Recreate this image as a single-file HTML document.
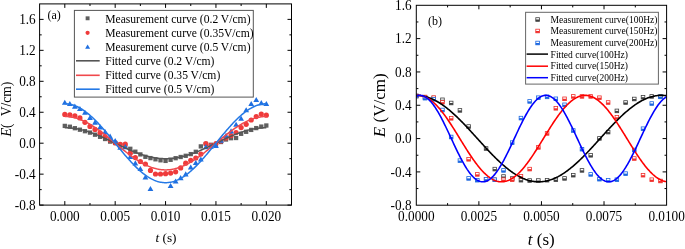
<!DOCTYPE html>
<html><head><meta charset="utf-8"><title>fig</title>
<style>html,body{margin:0;padding:0;background:#fff;}body{width:685px;height:249px;position:relative;overflow:hidden;font-family:"Liberation Serif",serif;}</style>
</head><body>
<svg width="685" height="249" viewBox="0 0 685 249" style="position:absolute;left:0;top:0;will-change:transform" font-family="Liberation Serif, serif">
<rect width="685" height="249" fill="#fff"/>
<clipPath id="cl"><rect x="39.6" y="3.9" width="251.9" height="201.2"/></clipPath>
<g clip-path="url(#cl)">
<rect x="62.65" y="123.75" width="4.3" height="4.3" fill="#5f5f5f"/>
<rect x="67.69" y="124.55" width="4.3" height="4.3" fill="#5f5f5f"/>
<rect x="72.73" y="126.05" width="4.3" height="4.3" fill="#5f5f5f"/>
<rect x="77.76" y="127.55" width="4.3" height="4.3" fill="#5f5f5f"/>
<rect x="82.80" y="129.05" width="4.3" height="4.3" fill="#5f5f5f"/>
<rect x="87.84" y="130.45" width="4.3" height="4.3" fill="#5f5f5f"/>
<rect x="92.88" y="132.55" width="4.3" height="4.3" fill="#5f5f5f"/>
<rect x="97.92" y="134.65" width="4.3" height="4.3" fill="#5f5f5f"/>
<rect x="102.95" y="136.85" width="4.3" height="4.3" fill="#5f5f5f"/>
<rect x="107.99" y="139.45" width="4.3" height="4.3" fill="#5f5f5f"/>
<rect x="113.03" y="140.85" width="4.3" height="4.3" fill="#5f5f5f"/>
<rect x="118.07" y="142.65" width="4.3" height="4.3" fill="#5f5f5f"/>
<rect x="123.11" y="144.65" width="4.3" height="4.3" fill="#5f5f5f"/>
<rect x="128.14" y="146.65" width="4.3" height="4.3" fill="#5f5f5f"/>
<rect x="133.18" y="149.55" width="4.3" height="4.3" fill="#5f5f5f"/>
<rect x="138.22" y="152.25" width="4.3" height="4.3" fill="#5f5f5f"/>
<rect x="143.26" y="154.65" width="4.3" height="4.3" fill="#5f5f5f"/>
<rect x="148.30" y="155.95" width="4.3" height="4.3" fill="#5f5f5f"/>
<rect x="153.33" y="157.15" width="4.3" height="4.3" fill="#5f5f5f"/>
<rect x="158.37" y="158.15" width="4.3" height="4.3" fill="#5f5f5f"/>
<rect x="163.41" y="158.75" width="4.3" height="4.3" fill="#5f5f5f"/>
<rect x="168.45" y="157.65" width="4.3" height="4.3" fill="#5f5f5f"/>
<rect x="173.49" y="156.05" width="4.3" height="4.3" fill="#5f5f5f"/>
<rect x="178.52" y="154.85" width="4.3" height="4.3" fill="#5f5f5f"/>
<rect x="183.56" y="153.65" width="4.3" height="4.3" fill="#5f5f5f"/>
<rect x="188.60" y="151.95" width="4.3" height="4.3" fill="#5f5f5f"/>
<rect x="193.64" y="149.65" width="4.3" height="4.3" fill="#5f5f5f"/>
<rect x="198.68" y="144.25" width="4.3" height="4.3" fill="#5f5f5f"/>
<rect x="203.71" y="141.85" width="4.3" height="4.3" fill="#5f5f5f"/>
<rect x="208.75" y="142.65" width="4.3" height="4.3" fill="#5f5f5f"/>
<rect x="213.79" y="143.05" width="4.3" height="4.3" fill="#5f5f5f"/>
<rect x="218.83" y="139.85" width="4.3" height="4.3" fill="#5f5f5f"/>
<rect x="223.87" y="137.35" width="4.3" height="4.3" fill="#5f5f5f"/>
<rect x="228.90" y="136.05" width="4.3" height="4.3" fill="#5f5f5f"/>
<rect x="233.94" y="135.85" width="4.3" height="4.3" fill="#5f5f5f"/>
<rect x="238.98" y="131.65" width="4.3" height="4.3" fill="#5f5f5f"/>
<rect x="244.02" y="129.65" width="4.3" height="4.3" fill="#5f5f5f"/>
<rect x="249.06" y="127.75" width="4.3" height="4.3" fill="#5f5f5f"/>
<rect x="254.09" y="125.95" width="4.3" height="4.3" fill="#5f5f5f"/>
<rect x="259.13" y="124.45" width="4.3" height="4.3" fill="#5f5f5f"/>
<rect x="264.17" y="123.35" width="4.3" height="4.3" fill="#5f5f5f"/>
<circle cx="64.80" cy="114.40" r="2.6" fill="#ef3b3b"/>
<circle cx="69.84" cy="114.80" r="2.6" fill="#ef3b3b"/>
<circle cx="74.88" cy="115.80" r="2.6" fill="#ef3b3b"/>
<circle cx="79.91" cy="117.90" r="2.6" fill="#ef3b3b"/>
<circle cx="84.95" cy="122.30" r="2.6" fill="#ef3b3b"/>
<circle cx="89.99" cy="126.40" r="2.6" fill="#ef3b3b"/>
<circle cx="95.03" cy="129.40" r="2.6" fill="#ef3b3b"/>
<circle cx="100.07" cy="132.90" r="2.6" fill="#ef3b3b"/>
<circle cx="105.10" cy="136.50" r="2.6" fill="#ef3b3b"/>
<circle cx="110.14" cy="140.00" r="2.6" fill="#ef3b3b"/>
<circle cx="115.18" cy="142.80" r="2.6" fill="#ef3b3b"/>
<circle cx="120.22" cy="144.40" r="2.6" fill="#ef3b3b"/>
<circle cx="125.26" cy="144.00" r="2.6" fill="#ef3b3b"/>
<circle cx="130.29" cy="153.20" r="2.6" fill="#ef3b3b"/>
<circle cx="135.33" cy="157.60" r="2.6" fill="#ef3b3b"/>
<circle cx="140.37" cy="161.50" r="2.6" fill="#ef3b3b"/>
<circle cx="145.41" cy="164.00" r="2.6" fill="#ef3b3b"/>
<circle cx="150.45" cy="170.40" r="2.6" fill="#ef3b3b"/>
<circle cx="155.48" cy="174.00" r="2.6" fill="#ef3b3b"/>
<circle cx="160.52" cy="174.00" r="2.6" fill="#ef3b3b"/>
<circle cx="165.56" cy="173.70" r="2.6" fill="#ef3b3b"/>
<circle cx="170.60" cy="173.10" r="2.6" fill="#ef3b3b"/>
<circle cx="175.64" cy="171.80" r="2.6" fill="#ef3b3b"/>
<circle cx="180.67" cy="167.90" r="2.6" fill="#ef3b3b"/>
<circle cx="185.71" cy="163.20" r="2.6" fill="#ef3b3b"/>
<circle cx="190.75" cy="160.30" r="2.6" fill="#ef3b3b"/>
<circle cx="195.79" cy="158.00" r="2.6" fill="#ef3b3b"/>
<circle cx="200.83" cy="154.10" r="2.6" fill="#ef3b3b"/>
<circle cx="205.86" cy="143.50" r="2.6" fill="#ef3b3b"/>
<circle cx="210.90" cy="145.50" r="2.6" fill="#ef3b3b"/>
<circle cx="215.94" cy="143.50" r="2.6" fill="#ef3b3b"/>
<circle cx="220.98" cy="141.00" r="2.6" fill="#ef3b3b"/>
<circle cx="226.02" cy="138.00" r="2.6" fill="#ef3b3b"/>
<circle cx="231.05" cy="135.60" r="2.6" fill="#ef3b3b"/>
<circle cx="236.09" cy="132.50" r="2.6" fill="#ef3b3b"/>
<circle cx="241.13" cy="127.60" r="2.6" fill="#ef3b3b"/>
<circle cx="246.17" cy="124.30" r="2.6" fill="#ef3b3b"/>
<circle cx="251.21" cy="120.00" r="2.6" fill="#ef3b3b"/>
<circle cx="256.24" cy="116.60" r="2.6" fill="#ef3b3b"/>
<circle cx="261.28" cy="114.10" r="2.6" fill="#ef3b3b"/>
<circle cx="266.32" cy="115.20" r="2.6" fill="#ef3b3b"/>
<path d="M64.80 99.70 L67.70 104.77 L61.90 104.77Z" fill="#1f6fe0"/>
<path d="M69.84 100.90 L72.74 105.97 L66.94 105.97Z" fill="#1f6fe0"/>
<path d="M74.88 103.60 L77.78 108.67 L71.98 108.67Z" fill="#1f6fe0"/>
<path d="M79.91 105.90 L82.81 110.97 L77.01 110.97Z" fill="#1f6fe0"/>
<path d="M84.95 109.70 L87.85 114.77 L82.05 114.77Z" fill="#1f6fe0"/>
<path d="M89.99 115.00 L92.89 120.08 L87.09 120.08Z" fill="#1f6fe0"/>
<path d="M95.03 119.60 L97.93 124.67 L92.13 124.67Z" fill="#1f6fe0"/>
<path d="M100.07 124.30 L102.97 129.38 L97.17 129.38Z" fill="#1f6fe0"/>
<path d="M105.10 129.10 L108.00 134.18 L102.20 134.18Z" fill="#1f6fe0"/>
<path d="M110.14 133.60 L113.04 138.68 L107.24 138.68Z" fill="#1f6fe0"/>
<path d="M115.18 138.00 L118.08 143.08 L112.28 143.08Z" fill="#1f6fe0"/>
<path d="M120.22 144.60 L123.12 149.68 L117.32 149.68Z" fill="#1f6fe0"/>
<path d="M125.26 144.10 L128.16 149.18 L122.36 149.18Z" fill="#1f6fe0"/>
<path d="M130.29 153.80 L133.19 158.88 L127.39 158.88Z" fill="#1f6fe0"/>
<path d="M135.33 160.30 L138.23 165.38 L132.43 165.38Z" fill="#1f6fe0"/>
<path d="M140.37 166.00 L143.27 171.08 L137.47 171.08Z" fill="#1f6fe0"/>
<path d="M145.41 174.40 L148.31 179.48 L142.51 179.48Z" fill="#1f6fe0"/>
<path d="M150.45 185.90 L153.35 190.98 L147.55 190.98Z" fill="#1f6fe0"/>
<path d="M170.60 182.90 L173.50 187.98 L167.70 187.98Z" fill="#1f6fe0"/>
<path d="M175.64 178.40 L178.54 183.48 L172.74 183.48Z" fill="#1f6fe0"/>
<path d="M180.67 175.10 L183.57 180.18 L177.77 180.18Z" fill="#1f6fe0"/>
<path d="M185.71 171.30 L188.61 176.38 L182.81 176.38Z" fill="#1f6fe0"/>
<path d="M190.75 164.40 L193.65 169.48 L187.85 169.48Z" fill="#1f6fe0"/>
<path d="M195.79 160.00 L198.69 165.08 L192.89 165.08Z" fill="#1f6fe0"/>
<path d="M200.83 156.50 L203.73 161.58 L197.93 161.58Z" fill="#1f6fe0"/>
<path d="M205.86 144.10 L208.76 149.18 L202.96 149.18Z" fill="#1f6fe0"/>
<path d="M210.90 143.60 L213.80 148.68 L208.00 148.68Z" fill="#1f6fe0"/>
<path d="M215.94 142.90 L218.84 147.98 L213.04 147.98Z" fill="#1f6fe0"/>
<path d="M220.98 137.60 L223.88 142.68 L218.08 142.68Z" fill="#1f6fe0"/>
<path d="M226.02 132.70 L228.92 137.78 L223.12 137.78Z" fill="#1f6fe0"/>
<path d="M231.05 128.30 L233.95 133.38 L228.15 133.38Z" fill="#1f6fe0"/>
<path d="M236.09 121.70 L238.99 126.77 L233.19 126.77Z" fill="#1f6fe0"/>
<path d="M241.13 115.70 L244.03 120.77 L238.23 120.77Z" fill="#1f6fe0"/>
<path d="M246.17 107.20 L249.07 112.27 L243.27 112.27Z" fill="#1f6fe0"/>
<path d="M251.21 101.00 L254.11 106.08 L248.31 106.08Z" fill="#1f6fe0"/>
<path d="M256.24 97.00 L259.14 102.08 L253.34 102.08Z" fill="#1f6fe0"/>
<path d="M261.28 100.10 L264.18 105.17 L258.38 105.17Z" fill="#1f6fe0"/>
<path d="M266.32 101.00 L269.22 106.08 L263.42 106.08Z" fill="#1f6fe0"/>
<polyline points="64.80,127.72 65.81,127.73 66.82,127.75 67.82,127.79 68.83,127.85 69.84,127.91 70.85,128.00 71.85,128.10 72.86,128.21 73.87,128.34 74.88,128.48 75.88,128.64 76.89,128.81 77.90,129.00 78.91,129.20 79.91,129.41 80.92,129.64 81.93,129.88 82.94,130.13 83.94,130.40 84.95,130.68 85.96,130.97 86.97,131.28 87.97,131.59 88.98,131.92 89.99,132.26 91.00,132.61 92.01,132.97 93.01,133.34 94.02,133.71 95.03,134.10 96.04,134.50 97.04,134.91 98.05,135.32 99.06,135.74 100.07,136.17 101.07,136.61 102.08,137.05 103.09,137.50 104.10,137.96 105.10,138.42 106.11,138.88 107.12,139.35 108.13,139.82 109.13,140.30 110.14,140.78 111.15,141.26 112.16,141.74 113.16,142.23 114.17,142.71 115.18,143.20 116.19,143.69 117.20,144.17 118.20,144.66 119.21,145.14 120.22,145.62 121.23,146.10 122.23,146.58 123.24,147.05 124.25,147.52 125.26,147.98 126.26,148.44 127.27,148.90 128.28,149.35 129.29,149.79 130.29,150.23 131.30,150.66 132.31,151.08 133.32,151.49 134.32,151.90 135.33,152.30 136.34,152.69 137.35,153.06 138.35,153.43 139.36,153.79 140.37,154.14 141.38,154.48 142.39,154.81 143.39,155.12 144.40,155.43 145.41,155.72 146.42,156.00 147.42,156.27 148.43,156.52 149.44,156.76 150.45,156.99 151.45,157.20 152.46,157.40 153.47,157.59 154.48,157.76 155.48,157.92 156.49,158.06 157.50,158.19 158.51,158.30 159.51,158.40 160.52,158.49 161.53,158.55 162.54,158.61 163.54,158.65 164.55,158.67 165.56,158.68 166.57,158.67 167.58,158.65 168.58,158.61 169.59,158.55 170.60,158.49 171.61,158.40 172.61,158.30 173.62,158.19 174.63,158.06 175.64,157.92 176.64,157.76 177.65,157.59 178.66,157.40 179.67,157.20 180.67,156.99 181.68,156.76 182.69,156.52 183.70,156.27 184.70,156.00 185.71,155.72 186.72,155.43 187.73,155.12 188.73,154.81 189.74,154.48 190.75,154.14 191.76,153.79 192.77,153.43 193.77,153.06 194.78,152.69 195.79,152.30 196.80,151.90 197.80,151.49 198.81,151.08 199.82,150.66 200.83,150.23 201.83,149.79 202.84,149.35 203.85,148.90 204.86,148.44 205.86,147.98 206.87,147.52 207.88,147.05 208.89,146.58 209.89,146.10 210.90,145.62 211.91,145.14 212.92,144.66 213.92,144.17 214.93,143.69 215.94,143.20 216.95,142.71 217.96,142.23 218.96,141.74 219.97,141.26 220.98,140.78 221.99,140.30 222.99,139.82 224.00,139.35 225.01,138.88 226.02,138.42 227.02,137.96 228.03,137.50 229.04,137.05 230.05,136.61 231.05,136.17 232.06,135.74 233.07,135.32 234.08,134.91 235.08,134.50 236.09,134.10 237.10,133.71 238.11,133.34 239.11,132.97 240.12,132.61 241.13,132.26 242.14,131.92 243.15,131.59 244.15,131.28 245.16,130.97 246.17,130.68 247.18,130.40 248.18,130.13 249.19,129.88 250.20,129.64 251.21,129.41 252.21,129.20 253.22,129.00 254.23,128.81 255.24,128.64 256.24,128.48 257.25,128.34 258.26,128.21 259.27,128.10 260.27,128.00 261.28,127.91 262.29,127.85 263.30,127.79 264.30,127.75 265.31,127.73 266.32,127.72" fill="none" stroke="#555555" stroke-width="1.5" stroke-linejoin="round"/>
<polyline points="64.80,116.50 65.81,116.52 66.82,116.56 67.82,116.62 68.83,116.71 69.84,116.83 70.85,116.98 71.85,117.15 72.86,117.34 73.87,117.56 74.88,117.81 75.88,118.08 76.89,118.38 77.90,118.70 78.91,119.04 79.91,119.41 80.92,119.81 81.93,120.22 82.94,120.66 83.94,121.12 84.95,121.60 85.96,122.11 86.97,122.63 87.97,123.17 88.98,123.74 89.99,124.32 91.00,124.93 92.01,125.55 93.01,126.18 94.02,126.84 95.03,127.51 96.04,128.19 97.04,128.90 98.05,129.61 99.06,130.34 100.07,131.08 101.07,131.83 102.08,132.60 103.09,133.37 104.10,134.16 105.10,134.95 106.11,135.75 107.12,136.56 108.13,137.38 109.13,138.20 110.14,139.02 111.15,139.85 112.16,140.69 113.16,141.52 114.17,142.36 115.18,143.20 116.19,144.04 117.20,144.88 118.20,145.71 119.21,146.55 120.22,147.38 121.23,148.20 122.23,149.02 123.24,149.84 124.25,150.65 125.26,151.45 126.26,152.24 127.27,153.03 128.28,153.80 129.29,154.57 130.29,155.32 131.30,156.06 132.31,156.79 133.32,157.50 134.32,158.21 135.33,158.89 136.34,159.56 137.35,160.22 138.35,160.85 139.36,161.47 140.37,162.08 141.38,162.66 142.39,163.23 143.39,163.77 144.40,164.29 145.41,164.80 146.42,165.28 147.42,165.74 148.43,166.18 149.44,166.59 150.45,166.99 151.45,167.36 152.46,167.70 153.47,168.02 154.48,168.32 155.48,168.59 156.49,168.84 157.50,169.06 158.51,169.25 159.51,169.42 160.52,169.57 161.53,169.69 162.54,169.78 163.54,169.84 164.55,169.88 165.56,169.90 166.57,169.88 167.58,169.84 168.58,169.78 169.59,169.69 170.60,169.57 171.61,169.42 172.61,169.25 173.62,169.06 174.63,168.84 175.64,168.59 176.64,168.32 177.65,168.02 178.66,167.70 179.67,167.36 180.67,166.99 181.68,166.59 182.69,166.18 183.70,165.74 184.70,165.28 185.71,164.80 186.72,164.29 187.73,163.77 188.73,163.23 189.74,162.66 190.75,162.08 191.76,161.47 192.77,160.85 193.77,160.22 194.78,159.56 195.79,158.89 196.80,158.21 197.80,157.50 198.81,156.79 199.82,156.06 200.83,155.32 201.83,154.57 202.84,153.80 203.85,153.03 204.86,152.24 205.86,151.45 206.87,150.65 207.88,149.84 208.89,149.02 209.89,148.20 210.90,147.38 211.91,146.55 212.92,145.71 213.92,144.88 214.93,144.04 215.94,143.20 216.95,142.36 217.96,141.52 218.96,140.69 219.97,139.85 220.98,139.02 221.99,138.20 222.99,137.38 224.00,136.56 225.01,135.75 226.02,134.95 227.02,134.16 228.03,133.37 229.04,132.60 230.05,131.83 231.05,131.08 232.06,130.34 233.07,129.61 234.08,128.90 235.08,128.19 236.09,127.51 237.10,126.84 238.11,126.18 239.11,125.55 240.12,124.93 241.13,124.32 242.14,123.74 243.15,123.17 244.15,122.63 245.16,122.11 246.17,121.60 247.18,121.12 248.18,120.66 249.19,120.22 250.20,119.81 251.21,119.41 252.21,119.04 253.22,118.70 254.23,118.38 255.24,118.08 256.24,117.81 257.25,117.56 258.26,117.34 259.27,117.15 260.27,116.98 261.28,116.83 262.29,116.71 263.30,116.62 264.30,116.56 265.31,116.52 266.32,116.50" fill="none" stroke="#f0484c" stroke-width="1.5" stroke-linejoin="round"/>
<polyline points="64.80,103.74 65.81,103.76 66.82,103.81 67.82,103.91 68.83,104.05 69.84,104.22 70.85,104.44 71.85,104.69 72.86,104.98 73.87,105.30 74.88,105.67 75.88,106.07 76.89,106.51 77.90,106.98 78.91,107.49 79.91,108.04 80.92,108.62 81.93,109.23 82.94,109.88 83.94,110.56 84.95,111.27 85.96,112.02 86.97,112.79 87.97,113.60 88.98,114.43 89.99,115.29 91.00,116.19 92.01,117.10 93.01,118.04 94.02,119.01 95.03,120.00 96.04,121.02 97.04,122.05 98.05,123.11 99.06,124.19 100.07,125.28 101.07,126.40 102.08,127.53 103.09,128.67 104.10,129.83 105.10,131.01 106.11,132.19 107.12,133.39 108.13,134.59 109.13,135.81 110.14,137.03 111.15,138.25 112.16,139.49 113.16,140.72 114.17,141.96 115.18,143.20 116.19,144.44 117.20,145.68 118.20,146.91 119.21,148.15 120.22,149.37 121.23,150.59 122.23,151.81 123.24,153.01 124.25,154.21 125.26,155.39 126.26,156.57 127.27,157.73 128.28,158.87 129.29,160.00 130.29,161.12 131.30,162.21 132.31,163.29 133.32,164.35 134.32,165.38 135.33,166.40 136.34,167.39 137.35,168.36 138.35,169.30 139.36,170.21 140.37,171.11 141.38,171.97 142.39,172.80 143.39,173.61 144.40,174.38 145.41,175.13 146.42,175.84 147.42,176.52 148.43,177.17 149.44,177.78 150.45,178.36 151.45,178.91 152.46,179.42 153.47,179.89 154.48,180.33 155.48,180.73 156.49,181.10 157.50,181.42 158.51,181.71 159.51,181.96 160.52,182.18 161.53,182.35 162.54,182.49 163.54,182.59 164.55,182.64 165.56,182.66 166.57,182.64 167.58,182.59 168.58,182.49 169.59,182.35 170.60,182.18 171.61,181.96 172.61,181.71 173.62,181.42 174.63,181.10 175.64,180.73 176.64,180.33 177.65,179.89 178.66,179.42 179.67,178.91 180.67,178.36 181.68,177.78 182.69,177.17 183.70,176.52 184.70,175.84 185.71,175.13 186.72,174.38 187.73,173.61 188.73,172.80 189.74,171.97 190.75,171.11 191.76,170.21 192.77,169.30 193.77,168.36 194.78,167.39 195.79,166.40 196.80,165.38 197.80,164.35 198.81,163.29 199.82,162.21 200.83,161.12 201.83,160.00 202.84,158.87 203.85,157.73 204.86,156.57 205.86,155.39 206.87,154.21 207.88,153.01 208.89,151.81 209.89,150.59 210.90,149.37 211.91,148.15 212.92,146.91 213.92,145.68 214.93,144.44 215.94,143.20 216.95,141.96 217.96,140.72 218.96,139.49 219.97,138.25 220.98,137.03 221.99,135.81 222.99,134.59 224.00,133.39 225.01,132.19 226.02,131.01 227.02,129.83 228.03,128.67 229.04,127.53 230.05,126.40 231.05,125.28 232.06,124.19 233.07,123.11 234.08,122.05 235.08,121.02 236.09,120.00 237.10,119.01 238.11,118.04 239.11,117.10 240.12,116.19 241.13,115.29 242.14,114.43 243.15,113.60 244.15,112.79 245.16,112.02 246.17,111.27 247.18,110.56 248.18,109.88 249.19,109.23 250.20,108.62 251.21,108.04 252.21,107.49 253.22,106.98 254.23,106.51 255.24,106.07 256.24,105.67 257.25,105.30 258.26,104.98 259.27,104.69 260.27,104.44 261.28,104.22 262.29,104.05 263.30,103.91 264.30,103.81 265.31,103.76 266.32,103.74" fill="none" stroke="#2479e6" stroke-width="1.5" stroke-linejoin="round"/>
</g>
<rect x="39.6" y="3.9" width="251.9" height="201.2" fill="none" stroke="#000" stroke-width="1"/>
<path d="M64.80 205.1 v-4.0 M64.80 3.9 v4.0 M89.99 205.1 v-2.1 M89.99 3.9 v2.1 M115.18 205.1 v-4.0 M115.18 3.9 v4.0 M140.37 205.1 v-2.1 M140.37 3.9 v2.1 M165.56 205.1 v-4.0 M165.56 3.9 v4.0 M190.75 205.1 v-2.1 M190.75 3.9 v2.1 M215.94 205.1 v-4.0 M215.94 3.9 v4.0 M241.13 205.1 v-2.1 M241.13 3.9 v2.1 M266.32 205.1 v-4.0 M266.32 3.9 v4.0 M39.6 205.10 h4.0 M291.5 205.10 h-4.0 M39.6 189.63 h2.1 M291.5 189.63 h-2.1 M39.6 174.15 h4.0 M291.5 174.15 h-4.0 M39.6 158.68 h2.1 M291.5 158.68 h-2.1 M39.6 143.20 h4.0 M291.5 143.20 h-4.0 M39.6 127.72 h2.1 M291.5 127.72 h-2.1 M39.6 112.25 h4.0 M291.5 112.25 h-4.0 M39.6 96.77 h2.1 M291.5 96.77 h-2.1 M39.6 81.30 h4.0 M291.5 81.30 h-4.0 M39.6 65.82 h2.1 M291.5 65.82 h-2.1 M39.6 50.34 h4.0 M291.5 50.34 h-4.0 M39.6 34.87 h2.1 M291.5 34.87 h-2.1 M39.6 19.39 h4.0 M291.5 19.39 h-4.0" stroke="#000" stroke-width="1" fill="none"/>
<text transform="translate(64.80,220.70) scale(0.975,1)" font-size="13.6" text-anchor="middle" >0.000</text>
<text transform="translate(115.18,220.70) scale(0.975,1)" font-size="13.6" text-anchor="middle" >0.005</text>
<text transform="translate(165.56,220.70) scale(0.975,1)" font-size="13.6" text-anchor="middle" >0.010</text>
<text transform="translate(215.94,220.70) scale(0.975,1)" font-size="13.6" text-anchor="middle" >0.015</text>
<text transform="translate(266.32,220.70) scale(0.975,1)" font-size="13.6" text-anchor="middle" >0.020</text>
<text transform="translate(35.70,209.80) scale(0.975,1)" font-size="13.6" text-anchor="end" >-0.8</text>
<text transform="translate(35.70,178.85) scale(0.975,1)" font-size="13.6" text-anchor="end" >-0.4</text>
<text transform="translate(35.70,147.90) scale(0.975,1)" font-size="13.6" text-anchor="end" >0.0</text>
<text transform="translate(35.70,116.95) scale(0.975,1)" font-size="13.6" text-anchor="end" >0.4</text>
<text transform="translate(35.70,86.00) scale(0.975,1)" font-size="13.6" text-anchor="end" >0.8</text>
<text transform="translate(35.70,55.04) scale(0.975,1)" font-size="13.6" text-anchor="end" >1.2</text>
<text transform="translate(35.70,24.09) scale(0.975,1)" font-size="13.6" text-anchor="end" >1.6</text>
<text x="166" y="241.6" font-size="13.3" text-anchor="middle"><tspan font-style="italic">t</tspan> (s)</text>
<g transform="translate(10.6,137.4) rotate(-90)" font-size="13.6"><text x="0.6" y="0.4"><tspan font-style="italic" font-size="14.6">E</tspan>(</text><text x="55.8" y="0" text-anchor="end">V/cm)</text></g>
<text x="47.5" y="18.5" font-size="12">(a)</text>
<rect x="74.4" y="10.4" width="178.9" height="86.7" fill="#fff" stroke="#555" stroke-width="1"/>
<rect x="85.64999999999999" y="16.35" width="3.9" height="3.9" fill="#5f5f5f"/>
<circle cx="87.6" cy="32.8" r="2.1" fill="#ef3b3b"/>
<path d="M87.6 44.4 L90.1 48.775 L85.1 48.775Z" fill="#1f6fe0"/>
<path d="M76.0 60.8 H99.7" stroke="#555555" stroke-width="1.6"/>
<path d="M76.0 75.3 H99.7" stroke="#f0484c" stroke-width="1.6"/>
<path d="M76.0 89.2 H99.7" stroke="#2479e6" stroke-width="1.6"/>
<text x="105.2" y="22.80" font-size="11.6">Measurement curve (0.2 V/cm)</text>
<text x="105.2" y="36.70" font-size="11.6">Measurement curve (0.35V/cm)</text>
<text x="105.2" y="50.80" font-size="11.6">Measurement curve (0.5 V/cm)</text>
<text x="105.2" y="65.00" font-size="11.6">Fitted curve (0.2 V/cm)</text>
<text x="105.2" y="79.00" font-size="11.6">Fitted curve (0.35 V/cm)</text>
<text x="105.2" y="92.90" font-size="11.6">Fitted curve (0.5 V/cm)</text>
<clipPath id="cr"><rect x="416.3" y="5.3" width="250.3" height="199.89999999999998"/></clipPath>
<g clip-path="url(#cr)">
<rect x="414.50" y="94.20" width="3.6" height="3.6" fill="#fff" stroke="#404040" stroke-width="0.8"/>
<rect x="414.50" y="96.00" width="3.6" height="1.80" fill="#404040"/>
<rect x="423.22" y="95.70" width="3.6" height="3.6" fill="#fff" stroke="#404040" stroke-width="0.8"/>
<rect x="423.22" y="97.50" width="3.6" height="1.80" fill="#404040"/>
<rect x="431.94" y="96.20" width="3.6" height="3.6" fill="#fff" stroke="#404040" stroke-width="0.8"/>
<rect x="431.94" y="98.00" width="3.6" height="1.80" fill="#404040"/>
<rect x="440.66" y="98.00" width="3.6" height="3.6" fill="#fff" stroke="#404040" stroke-width="0.8"/>
<rect x="440.66" y="99.80" width="3.6" height="1.80" fill="#404040"/>
<rect x="449.38" y="101.20" width="3.6" height="3.6" fill="#fff" stroke="#404040" stroke-width="0.8"/>
<rect x="449.38" y="103.00" width="3.6" height="1.80" fill="#404040"/>
<rect x="458.10" y="108.60" width="3.6" height="3.6" fill="#fff" stroke="#404040" stroke-width="0.8"/>
<rect x="458.10" y="110.40" width="3.6" height="1.80" fill="#404040"/>
<rect x="466.82" y="124.70" width="3.6" height="3.6" fill="#fff" stroke="#404040" stroke-width="0.8"/>
<rect x="466.82" y="126.50" width="3.6" height="1.80" fill="#404040"/>
<rect x="484.26" y="146.70" width="3.6" height="3.6" fill="#fff" stroke="#404040" stroke-width="0.8"/>
<rect x="484.26" y="148.50" width="3.6" height="1.80" fill="#404040"/>
<rect x="492.98" y="167.30" width="3.6" height="3.6" fill="#fff" stroke="#404040" stroke-width="0.8"/>
<rect x="492.98" y="169.10" width="3.6" height="1.80" fill="#404040"/>
<rect x="501.70" y="174.70" width="3.6" height="3.6" fill="#fff" stroke="#404040" stroke-width="0.8"/>
<rect x="501.70" y="176.50" width="3.6" height="1.80" fill="#404040"/>
<rect x="510.42" y="176.70" width="3.6" height="3.6" fill="#fff" stroke="#404040" stroke-width="0.8"/>
<rect x="510.42" y="178.50" width="3.6" height="1.80" fill="#404040"/>
<rect x="519.14" y="178.40" width="3.6" height="3.6" fill="#fff" stroke="#404040" stroke-width="0.8"/>
<rect x="519.14" y="180.20" width="3.6" height="1.80" fill="#404040"/>
<rect x="527.86" y="178.70" width="3.6" height="3.6" fill="#fff" stroke="#404040" stroke-width="0.8"/>
<rect x="527.86" y="180.50" width="3.6" height="1.80" fill="#404040"/>
<rect x="536.58" y="178.70" width="3.6" height="3.6" fill="#fff" stroke="#404040" stroke-width="0.8"/>
<rect x="536.58" y="180.50" width="3.6" height="1.80" fill="#404040"/>
<rect x="545.30" y="178.40" width="3.6" height="3.6" fill="#fff" stroke="#404040" stroke-width="0.8"/>
<rect x="545.30" y="180.20" width="3.6" height="1.80" fill="#404040"/>
<rect x="554.02" y="177.90" width="3.6" height="3.6" fill="#fff" stroke="#404040" stroke-width="0.8"/>
<rect x="554.02" y="179.70" width="3.6" height="1.80" fill="#404040"/>
<rect x="562.74" y="176.60" width="3.6" height="3.6" fill="#fff" stroke="#404040" stroke-width="0.8"/>
<rect x="562.74" y="178.40" width="3.6" height="1.80" fill="#404040"/>
<rect x="571.46" y="173.40" width="3.6" height="3.6" fill="#fff" stroke="#404040" stroke-width="0.8"/>
<rect x="571.46" y="175.20" width="3.6" height="1.80" fill="#404040"/>
<rect x="580.18" y="168.60" width="3.6" height="3.6" fill="#fff" stroke="#404040" stroke-width="0.8"/>
<rect x="580.18" y="170.40" width="3.6" height="1.80" fill="#404040"/>
<rect x="588.90" y="153.50" width="3.6" height="3.6" fill="#fff" stroke="#404040" stroke-width="0.8"/>
<rect x="588.90" y="155.30" width="3.6" height="1.80" fill="#404040"/>
<rect x="597.62" y="136.60" width="3.6" height="3.6" fill="#fff" stroke="#404040" stroke-width="0.8"/>
<rect x="597.62" y="138.40" width="3.6" height="1.80" fill="#404040"/>
<rect x="606.34" y="130.30" width="3.6" height="3.6" fill="#fff" stroke="#404040" stroke-width="0.8"/>
<rect x="606.34" y="132.10" width="3.6" height="1.80" fill="#404040"/>
<rect x="615.06" y="109.10" width="3.6" height="3.6" fill="#fff" stroke="#404040" stroke-width="0.8"/>
<rect x="615.06" y="110.90" width="3.6" height="1.80" fill="#404040"/>
<rect x="623.78" y="100.70" width="3.6" height="3.6" fill="#fff" stroke="#404040" stroke-width="0.8"/>
<rect x="623.78" y="102.50" width="3.6" height="1.80" fill="#404040"/>
<rect x="632.50" y="97.20" width="3.6" height="3.6" fill="#fff" stroke="#404040" stroke-width="0.8"/>
<rect x="632.50" y="99.00" width="3.6" height="1.80" fill="#404040"/>
<rect x="641.22" y="95.40" width="3.6" height="3.6" fill="#fff" stroke="#404040" stroke-width="0.8"/>
<rect x="641.22" y="97.20" width="3.6" height="1.80" fill="#404040"/>
<rect x="649.94" y="94.60" width="3.6" height="3.6" fill="#fff" stroke="#404040" stroke-width="0.8"/>
<rect x="649.94" y="96.40" width="3.6" height="1.80" fill="#404040"/>
<rect x="658.66" y="94.60" width="3.6" height="3.6" fill="#fff" stroke="#404040" stroke-width="0.8"/>
<rect x="658.66" y="96.40" width="3.6" height="1.80" fill="#404040"/>
<rect x="414.50" y="94.20" width="3.6" height="3.6" fill="#fff" stroke="#f0302c" stroke-width="0.8"/>
<rect x="414.50" y="96.00" width="3.6" height="1.80" fill="#f0302c"/>
<rect x="423.22" y="95.20" width="3.6" height="3.6" fill="#fff" stroke="#f0302c" stroke-width="0.8"/>
<rect x="423.22" y="97.00" width="3.6" height="1.80" fill="#f0302c"/>
<rect x="431.94" y="95.80" width="3.6" height="3.6" fill="#fff" stroke="#f0302c" stroke-width="0.8"/>
<rect x="431.94" y="97.60" width="3.6" height="1.80" fill="#f0302c"/>
<rect x="440.66" y="100.40" width="3.6" height="3.6" fill="#fff" stroke="#f0302c" stroke-width="0.8"/>
<rect x="440.66" y="102.20" width="3.6" height="1.80" fill="#f0302c"/>
<rect x="449.38" y="116.50" width="3.6" height="3.6" fill="#fff" stroke="#f0302c" stroke-width="0.8"/>
<rect x="449.38" y="118.30" width="3.6" height="1.80" fill="#f0302c"/>
<rect x="466.82" y="157.50" width="3.6" height="3.6" fill="#fff" stroke="#f0302c" stroke-width="0.8"/>
<rect x="466.82" y="159.30" width="3.6" height="1.80" fill="#f0302c"/>
<rect x="475.54" y="172.60" width="3.6" height="3.6" fill="#fff" stroke="#f0302c" stroke-width="0.8"/>
<rect x="475.54" y="174.40" width="3.6" height="1.80" fill="#f0302c"/>
<rect x="484.26" y="177.70" width="3.6" height="3.6" fill="#fff" stroke="#f0302c" stroke-width="0.8"/>
<rect x="484.26" y="179.50" width="3.6" height="1.80" fill="#f0302c"/>
<rect x="492.98" y="177.90" width="3.6" height="3.6" fill="#fff" stroke="#f0302c" stroke-width="0.8"/>
<rect x="492.98" y="179.70" width="3.6" height="1.80" fill="#f0302c"/>
<rect x="501.70" y="177.90" width="3.6" height="3.6" fill="#fff" stroke="#f0302c" stroke-width="0.8"/>
<rect x="501.70" y="179.70" width="3.6" height="1.80" fill="#f0302c"/>
<rect x="510.42" y="177.90" width="3.6" height="3.6" fill="#fff" stroke="#f0302c" stroke-width="0.8"/>
<rect x="510.42" y="179.70" width="3.6" height="1.80" fill="#f0302c"/>
<rect x="519.14" y="174.40" width="3.6" height="3.6" fill="#fff" stroke="#f0302c" stroke-width="0.8"/>
<rect x="519.14" y="176.20" width="3.6" height="1.80" fill="#f0302c"/>
<rect x="527.86" y="167.30" width="3.6" height="3.6" fill="#fff" stroke="#f0302c" stroke-width="0.8"/>
<rect x="527.86" y="169.10" width="3.6" height="1.80" fill="#f0302c"/>
<rect x="536.58" y="145.60" width="3.6" height="3.6" fill="#fff" stroke="#f0302c" stroke-width="0.8"/>
<rect x="536.58" y="147.40" width="3.6" height="1.80" fill="#f0302c"/>
<rect x="545.30" y="131.60" width="3.6" height="3.6" fill="#fff" stroke="#f0302c" stroke-width="0.8"/>
<rect x="545.30" y="133.40" width="3.6" height="1.80" fill="#f0302c"/>
<rect x="554.02" y="106.50" width="3.6" height="3.6" fill="#fff" stroke="#f0302c" stroke-width="0.8"/>
<rect x="554.02" y="108.30" width="3.6" height="1.80" fill="#f0302c"/>
<rect x="562.74" y="97.00" width="3.6" height="3.6" fill="#fff" stroke="#f0302c" stroke-width="0.8"/>
<rect x="562.74" y="98.80" width="3.6" height="1.80" fill="#f0302c"/>
<rect x="571.46" y="94.60" width="3.6" height="3.6" fill="#fff" stroke="#f0302c" stroke-width="0.8"/>
<rect x="571.46" y="96.40" width="3.6" height="1.80" fill="#f0302c"/>
<rect x="580.18" y="94.60" width="3.6" height="3.6" fill="#fff" stroke="#f0302c" stroke-width="0.8"/>
<rect x="580.18" y="96.40" width="3.6" height="1.80" fill="#f0302c"/>
<rect x="588.90" y="94.60" width="3.6" height="3.6" fill="#fff" stroke="#f0302c" stroke-width="0.8"/>
<rect x="588.90" y="96.40" width="3.6" height="1.80" fill="#f0302c"/>
<rect x="597.62" y="95.90" width="3.6" height="3.6" fill="#fff" stroke="#f0302c" stroke-width="0.8"/>
<rect x="597.62" y="97.70" width="3.6" height="1.80" fill="#f0302c"/>
<rect x="606.34" y="100.70" width="3.6" height="3.6" fill="#fff" stroke="#f0302c" stroke-width="0.8"/>
<rect x="606.34" y="102.50" width="3.6" height="1.80" fill="#f0302c"/>
<rect x="615.06" y="115.50" width="3.6" height="3.6" fill="#fff" stroke="#f0302c" stroke-width="0.8"/>
<rect x="615.06" y="117.30" width="3.6" height="1.80" fill="#f0302c"/>
<rect x="632.50" y="156.70" width="3.6" height="3.6" fill="#fff" stroke="#f0302c" stroke-width="0.8"/>
<rect x="632.50" y="158.50" width="3.6" height="1.80" fill="#f0302c"/>
<rect x="641.22" y="173.40" width="3.6" height="3.6" fill="#fff" stroke="#f0302c" stroke-width="0.8"/>
<rect x="641.22" y="175.20" width="3.6" height="1.80" fill="#f0302c"/>
<rect x="649.94" y="177.90" width="3.6" height="3.6" fill="#fff" stroke="#f0302c" stroke-width="0.8"/>
<rect x="649.94" y="179.70" width="3.6" height="1.80" fill="#f0302c"/>
<rect x="658.66" y="179.20" width="3.6" height="3.6" fill="#fff" stroke="#f0302c" stroke-width="0.8"/>
<rect x="658.66" y="181.00" width="3.6" height="1.80" fill="#f0302c"/>
<rect x="414.50" y="94.20" width="3.6" height="3.6" fill="#fff" stroke="#1a66e0" stroke-width="0.8"/>
<rect x="414.50" y="96.00" width="3.6" height="1.80" fill="#1a66e0"/>
<rect x="423.22" y="96.40" width="3.6" height="3.6" fill="#fff" stroke="#1a66e0" stroke-width="0.8"/>
<rect x="423.22" y="98.20" width="3.6" height="1.80" fill="#1a66e0"/>
<rect x="431.94" y="97.50" width="3.6" height="3.6" fill="#fff" stroke="#1a66e0" stroke-width="0.8"/>
<rect x="431.94" y="99.30" width="3.6" height="1.80" fill="#1a66e0"/>
<rect x="440.66" y="108.20" width="3.6" height="3.6" fill="#fff" stroke="#1a66e0" stroke-width="0.8"/>
<rect x="440.66" y="110.00" width="3.6" height="1.80" fill="#1a66e0"/>
<rect x="449.38" y="135.20" width="3.6" height="3.6" fill="#fff" stroke="#1a66e0" stroke-width="0.8"/>
<rect x="449.38" y="137.00" width="3.6" height="1.80" fill="#1a66e0"/>
<rect x="458.10" y="158.80" width="3.6" height="3.6" fill="#fff" stroke="#1a66e0" stroke-width="0.8"/>
<rect x="458.10" y="160.60" width="3.6" height="1.80" fill="#1a66e0"/>
<rect x="466.82" y="176.60" width="3.6" height="3.6" fill="#fff" stroke="#1a66e0" stroke-width="0.8"/>
<rect x="466.82" y="178.40" width="3.6" height="1.80" fill="#1a66e0"/>
<rect x="475.54" y="178.40" width="3.6" height="3.6" fill="#fff" stroke="#1a66e0" stroke-width="0.8"/>
<rect x="475.54" y="180.20" width="3.6" height="1.80" fill="#1a66e0"/>
<rect x="484.26" y="177.40" width="3.6" height="3.6" fill="#fff" stroke="#1a66e0" stroke-width="0.8"/>
<rect x="484.26" y="179.20" width="3.6" height="1.80" fill="#1a66e0"/>
<rect x="492.98" y="177.90" width="3.6" height="3.6" fill="#fff" stroke="#1a66e0" stroke-width="0.8"/>
<rect x="492.98" y="179.70" width="3.6" height="1.80" fill="#1a66e0"/>
<rect x="501.70" y="168.60" width="3.6" height="3.6" fill="#fff" stroke="#1a66e0" stroke-width="0.8"/>
<rect x="501.70" y="170.40" width="3.6" height="1.80" fill="#1a66e0"/>
<rect x="510.42" y="140.80" width="3.6" height="3.6" fill="#fff" stroke="#1a66e0" stroke-width="0.8"/>
<rect x="510.42" y="142.60" width="3.6" height="1.80" fill="#1a66e0"/>
<rect x="519.14" y="116.30" width="3.6" height="3.6" fill="#fff" stroke="#1a66e0" stroke-width="0.8"/>
<rect x="519.14" y="118.10" width="3.6" height="1.80" fill="#1a66e0"/>
<rect x="527.86" y="99.60" width="3.6" height="3.6" fill="#fff" stroke="#1a66e0" stroke-width="0.8"/>
<rect x="527.86" y="101.40" width="3.6" height="1.80" fill="#1a66e0"/>
<rect x="536.58" y="95.90" width="3.6" height="3.6" fill="#fff" stroke="#1a66e0" stroke-width="0.8"/>
<rect x="536.58" y="97.70" width="3.6" height="1.80" fill="#1a66e0"/>
<rect x="545.30" y="95.10" width="3.6" height="3.6" fill="#fff" stroke="#1a66e0" stroke-width="0.8"/>
<rect x="545.30" y="96.90" width="3.6" height="1.80" fill="#1a66e0"/>
<rect x="554.02" y="97.00" width="3.6" height="3.6" fill="#fff" stroke="#1a66e0" stroke-width="0.8"/>
<rect x="554.02" y="98.80" width="3.6" height="1.80" fill="#1a66e0"/>
<rect x="562.74" y="103.00" width="3.6" height="3.6" fill="#fff" stroke="#1a66e0" stroke-width="0.8"/>
<rect x="562.74" y="104.80" width="3.6" height="1.80" fill="#1a66e0"/>
<rect x="571.46" y="128.70" width="3.6" height="3.6" fill="#fff" stroke="#1a66e0" stroke-width="0.8"/>
<rect x="571.46" y="130.50" width="3.6" height="1.80" fill="#1a66e0"/>
<rect x="580.18" y="147.40" width="3.6" height="3.6" fill="#fff" stroke="#1a66e0" stroke-width="0.8"/>
<rect x="580.18" y="149.20" width="3.6" height="1.80" fill="#1a66e0"/>
<rect x="588.90" y="172.60" width="3.6" height="3.6" fill="#fff" stroke="#1a66e0" stroke-width="0.8"/>
<rect x="588.90" y="174.40" width="3.6" height="1.80" fill="#1a66e0"/>
<rect x="597.62" y="177.40" width="3.6" height="3.6" fill="#fff" stroke="#1a66e0" stroke-width="0.8"/>
<rect x="597.62" y="179.20" width="3.6" height="1.80" fill="#1a66e0"/>
<rect x="606.34" y="178.40" width="3.6" height="3.6" fill="#fff" stroke="#1a66e0" stroke-width="0.8"/>
<rect x="606.34" y="180.20" width="3.6" height="1.80" fill="#1a66e0"/>
<rect x="615.06" y="177.90" width="3.6" height="3.6" fill="#fff" stroke="#1a66e0" stroke-width="0.8"/>
<rect x="615.06" y="179.70" width="3.6" height="1.80" fill="#1a66e0"/>
<rect x="623.78" y="171.80" width="3.6" height="3.6" fill="#fff" stroke="#1a66e0" stroke-width="0.8"/>
<rect x="623.78" y="173.60" width="3.6" height="1.80" fill="#1a66e0"/>
<rect x="632.50" y="148.20" width="3.6" height="3.6" fill="#fff" stroke="#1a66e0" stroke-width="0.8"/>
<rect x="632.50" y="150.00" width="3.6" height="1.80" fill="#1a66e0"/>
<rect x="641.22" y="126.90" width="3.6" height="3.6" fill="#fff" stroke="#1a66e0" stroke-width="0.8"/>
<rect x="641.22" y="128.70" width="3.6" height="1.80" fill="#1a66e0"/>
<rect x="649.94" y="101.70" width="3.6" height="3.6" fill="#fff" stroke="#1a66e0" stroke-width="0.8"/>
<rect x="649.94" y="103.50" width="3.6" height="1.80" fill="#1a66e0"/>
<rect x="658.66" y="95.10" width="3.6" height="3.6" fill="#fff" stroke="#1a66e0" stroke-width="0.8"/>
<rect x="658.66" y="96.90" width="3.6" height="1.80" fill="#1a66e0"/>
<polyline points="416.30,95.35 417.13,95.36 417.97,95.40 418.80,95.45 419.64,95.53 420.47,95.62 421.31,95.74 422.14,95.87 422.97,96.03 423.81,96.20 424.64,96.39 425.48,96.60 426.31,96.83 427.15,97.08 427.98,97.35 428.81,97.64 429.65,97.94 430.48,98.27 431.32,98.61 432.15,98.97 432.99,99.35 433.82,99.75 434.66,100.16 435.49,100.59 436.32,101.04 437.16,101.51 437.99,101.99 438.83,102.49 439.66,103.01 440.50,103.54 441.33,104.09 442.16,104.66 443.00,105.24 443.83,105.83 444.67,106.44 445.50,107.07 446.34,107.71 447.17,108.36 448.00,109.03 448.84,109.71 449.67,110.40 450.51,111.11 451.34,111.83 452.18,112.56 453.01,113.30 453.85,114.06 454.68,114.83 455.51,115.60 456.35,116.39 457.18,117.19 458.02,118.00 458.85,118.81 459.69,119.64 460.52,120.47 461.35,121.32 462.19,122.17 463.02,123.02 463.86,123.89 464.69,124.76 465.53,125.64 466.36,126.52 467.19,127.41 468.03,128.31 468.86,129.21 469.70,130.11 470.53,131.02 471.37,131.93 472.20,132.84 473.03,133.76 473.87,134.68 474.70,135.60 475.54,136.52 476.37,137.44 477.21,138.37 478.04,139.29 478.88,140.21 479.71,141.14 480.54,142.06 481.38,142.98 482.21,143.90 483.05,144.81 483.88,145.72 484.72,146.63 485.55,147.54 486.38,148.44 487.22,149.34 488.05,150.23 488.89,151.12 489.72,152.00 490.56,152.87 491.39,153.74 492.22,154.60 493.06,155.46 493.89,156.30 494.73,157.14 495.56,157.97 496.40,158.79 497.23,159.60 498.06,160.40 498.90,161.20 499.73,161.98 500.57,162.75 501.40,163.51 502.24,164.26 503.07,165.00 503.91,165.72 504.74,166.43 505.57,167.13 506.41,167.82 507.24,168.49 508.08,169.15 508.91,169.80 509.75,170.43 510.58,171.05 511.41,171.65 512.25,172.24 513.08,172.81 513.92,173.37 514.75,173.91 515.59,174.43 516.42,174.94 517.25,175.43 518.09,175.91 518.92,176.36 519.76,176.80 520.59,177.23 521.43,177.63 522.26,178.02 523.09,178.39 523.93,178.74 524.76,179.07 525.60,179.39 526.43,179.68 527.27,179.96 528.10,180.22 528.94,180.46 529.77,180.68 530.60,180.88 531.44,181.06 532.27,181.22 533.11,181.36 533.94,181.49 534.78,181.59 535.61,181.67 536.44,181.74 537.28,181.78 538.11,181.81 538.95,181.81 539.78,181.80 540.62,181.76 541.45,181.71 542.28,181.64 543.12,181.54 543.95,181.43 544.79,181.30 545.62,181.14 546.46,180.97 547.29,180.78 548.12,180.57 548.96,180.34 549.79,180.09 550.63,179.83 551.46,179.54 552.30,179.24 553.13,178.91 553.97,178.57 554.80,178.21 555.63,177.83 556.47,177.44 557.30,177.02 558.14,176.59 558.97,176.14 559.81,175.68 560.64,175.20 561.47,174.70 562.31,174.18 563.14,173.65 563.98,173.10 564.81,172.54 565.65,171.96 566.48,171.36 567.31,170.75 568.15,170.13 568.98,169.49 569.82,168.84 570.65,168.17 571.49,167.49 572.32,166.80 573.15,166.09 573.99,165.37 574.82,164.64 575.66,163.90 576.49,163.14 577.33,162.38 578.16,161.60 579.00,160.82 579.83,160.02 580.66,159.21 581.50,158.40 582.33,157.57 583.17,156.74 584.00,155.89 584.84,155.04 585.67,154.19 586.50,153.32 587.34,152.45 588.17,151.57 589.01,150.69 589.84,149.80 590.68,148.90 591.51,148.01 592.34,147.10 593.18,146.19 594.01,145.28 594.85,144.37 595.68,143.45 596.52,142.53 597.35,141.61 598.18,140.69 599.02,139.77 599.85,138.85 600.69,137.92 601.52,137.00 602.36,136.08 603.19,135.16 604.02,134.24 604.86,133.32 605.69,132.40 606.53,131.49 607.36,130.58 608.20,129.67 609.03,128.77 609.87,127.88 610.70,126.98 611.53,126.10 612.37,125.22 613.20,124.34 614.04,123.47 614.87,122.61 615.71,121.75 616.54,120.91 617.37,120.07 618.21,119.24 619.04,118.42 619.88,117.61 620.71,116.80 621.55,116.01 622.38,115.23 623.21,114.46 624.05,113.69 624.88,112.94 625.72,112.21 626.55,111.48 627.39,110.77 628.22,110.07 629.06,109.38 629.89,108.71 630.72,108.04 631.56,107.40 632.39,106.77 633.23,106.15 634.06,105.54 634.90,104.96 635.73,104.38 636.56,103.83 637.40,103.28 638.23,102.76 639.07,102.25 639.90,101.76 640.74,101.28 641.57,100.82 642.40,100.38 643.24,99.96 644.07,99.55 644.91,99.16 645.74,98.79 646.58,98.44 647.41,98.11 648.24,97.79 649.08,97.50 649.91,97.22 650.75,96.96 651.58,96.72 652.42,96.50 653.25,96.29 654.09,96.11 654.92,95.95 655.75,95.81 656.59,95.68 657.42,95.58 658.26,95.49 659.09,95.43 659.93,95.38 660.76,95.35 661.59,95.35 662.43,95.36 663.26,95.39 664.10,95.45 664.93,95.52 665.77,95.61 666.60,95.72" fill="none" stroke="#000" stroke-width="1.6" stroke-linejoin="round"/>
<polyline points="416.30,95.44 417.13,95.37 417.97,95.35 418.80,95.36 419.64,95.42 420.47,95.53 421.31,95.67 422.14,95.86 422.97,96.09 423.81,96.36 424.64,96.67 425.48,97.02 426.31,97.42 427.15,97.85 427.98,98.33 428.81,98.84 429.65,99.39 430.48,99.99 431.32,100.62 432.15,101.28 432.99,101.99 433.82,102.73 434.66,103.50 435.49,104.31 436.32,105.16 437.16,106.03 437.99,106.94 438.83,107.88 439.66,108.85 440.50,109.85 441.33,110.88 442.16,111.93 443.00,113.02 443.83,114.12 444.67,115.25 445.50,116.40 446.34,117.58 447.17,118.78 448.00,119.99 448.84,121.22 449.67,122.48 450.51,123.74 451.34,125.02 452.18,126.32 453.01,127.62 453.85,128.94 454.68,130.27 455.51,131.60 456.35,132.94 457.18,134.29 458.02,135.64 458.85,137.00 459.69,138.35 460.52,139.71 461.35,141.07 462.19,142.42 463.02,143.77 463.86,145.11 464.69,146.45 465.53,147.78 466.36,149.10 467.19,150.41 468.03,151.71 468.86,152.99 469.70,154.26 470.53,155.52 471.37,156.76 472.20,157.98 473.03,159.18 473.87,160.37 474.70,161.53 475.54,162.66 476.37,163.78 477.21,164.87 478.04,165.93 478.88,166.97 479.71,167.98 480.54,168.96 481.38,169.91 482.21,170.83 483.05,171.71 483.88,172.57 484.72,173.39 485.55,174.18 486.38,174.93 487.22,175.65 488.05,176.33 488.89,176.97 489.72,177.57 490.56,178.14 491.39,178.67 492.22,179.16 493.06,179.60 493.89,180.01 494.73,180.38 495.56,180.70 496.40,180.99 497.23,181.23 498.06,181.43 498.90,181.59 499.73,181.71 500.57,181.78 501.40,181.81 502.24,181.80 503.07,181.75 503.91,181.65 504.74,181.51 505.57,181.33 506.41,181.11 507.24,180.84 508.08,180.54 508.91,180.19 509.75,179.80 510.58,179.37 511.41,178.90 512.25,178.39 513.08,177.84 513.92,177.26 514.75,176.63 515.59,175.97 516.42,175.27 517.25,174.53 518.09,173.76 518.92,172.96 519.76,172.12 520.59,171.25 521.43,170.34 522.26,169.41 523.09,168.44 523.93,167.44 524.76,166.42 525.60,165.37 526.43,164.29 527.27,163.19 528.10,162.06 528.94,160.91 529.77,159.74 530.60,158.55 531.44,157.33 532.27,156.10 533.11,154.85 533.94,153.59 534.78,152.31 535.61,151.02 536.44,149.71 537.28,148.40 538.11,147.07 538.95,145.74 539.78,144.40 540.62,143.05 541.45,141.70 542.28,140.34 543.12,138.99 543.95,137.63 544.79,136.28 545.62,134.92 546.46,133.57 547.29,132.23 548.12,130.89 548.96,129.56 549.79,128.24 550.63,126.93 551.46,125.63 552.30,124.34 553.13,123.06 553.97,121.81 554.80,120.56 555.63,119.34 556.47,118.14 557.30,116.95 558.14,115.79 558.97,114.65 559.81,113.53 560.64,112.44 561.47,111.37 562.31,110.33 563.14,109.32 563.98,108.33 564.81,107.38 565.65,106.45 566.48,105.56 567.31,104.70 568.15,103.88 568.98,103.09 569.82,102.33 570.65,101.61 571.49,100.92 572.32,100.28 573.15,99.67 573.99,99.09 574.82,98.56 575.66,98.07 576.49,97.61 577.33,97.20 578.16,96.83 579.00,96.50 579.83,96.21 580.66,95.96 581.50,95.75 582.33,95.59 583.17,95.47 584.00,95.39 584.84,95.35 585.67,95.36 586.50,95.40 587.34,95.49 588.17,95.63 589.01,95.80 589.84,96.02 590.68,96.28 591.51,96.58 592.34,96.92 593.18,97.31 594.01,97.73 594.85,98.19 595.68,98.70 596.52,99.24 597.35,99.82 598.18,100.44 599.02,101.10 599.85,101.80 600.69,102.53 601.52,103.29 602.36,104.09 603.19,104.93 604.02,105.80 604.86,106.70 605.69,107.63 606.53,108.59 607.36,109.58 608.20,110.60 609.03,111.65 609.87,112.72 610.70,113.82 611.53,114.95 612.37,116.09 613.20,117.26 614.04,118.45 614.87,119.66 615.71,120.89 616.54,122.14 617.37,123.40 618.21,124.68 619.04,125.97 619.88,127.27 620.71,128.59 621.55,129.91 622.38,131.25 623.21,132.59 624.05,133.93 624.88,135.28 625.72,136.64 626.55,137.99 627.39,139.35 628.22,140.70 629.06,142.06 629.89,143.41 630.72,144.75 631.56,146.09 632.39,147.42 633.23,148.75 634.06,150.06 634.90,151.36 635.73,152.65 636.56,153.93 637.40,155.19 638.23,156.43 639.07,157.66 639.90,158.86 640.74,160.05 641.57,161.22 642.40,162.36 643.24,163.48 644.07,164.58 644.91,165.65 645.74,166.69 646.58,167.71 647.41,168.70 648.24,169.66 649.08,170.58 649.91,171.48 650.75,172.34 651.58,173.17 652.42,173.97 653.25,174.73 654.09,175.46 654.92,176.15 655.75,176.80 656.59,177.42 657.42,177.99 658.26,178.53 659.09,179.03 659.93,179.49 660.76,179.91 661.59,180.28 662.43,180.62 663.26,180.92 664.10,181.17 664.93,181.38 665.77,181.55 666.60,181.68" fill="none" stroke="#ff0000" stroke-width="1.6" stroke-linejoin="round"/>
<polyline points="416.30,96.01 417.13,95.73 417.97,95.53 418.80,95.40 419.64,95.35 420.47,95.37 421.31,95.47 422.14,95.64 422.97,95.89 423.81,96.21 424.64,96.60 425.48,97.07 426.31,97.60 427.15,98.21 427.98,98.89 428.81,99.64 429.65,100.45 430.48,101.33 431.32,102.28 432.15,103.29 432.99,104.36 433.82,105.49 434.66,106.67 435.49,107.91 436.32,109.21 437.16,110.55 437.99,111.94 438.83,113.38 439.66,114.87 440.50,116.39 441.33,117.95 442.16,119.55 443.00,121.18 443.83,122.84 444.67,124.53 445.50,126.24 446.34,127.98 447.17,129.73 448.00,131.50 448.84,133.28 449.67,135.07 450.51,136.86 451.34,138.66 452.18,140.46 453.01,142.25 453.85,144.04 454.68,145.82 455.51,147.59 456.35,149.34 457.18,151.07 458.02,152.78 458.85,154.47 459.69,156.13 460.52,157.76 461.35,159.35 462.19,160.91 463.02,162.43 463.86,163.91 464.69,165.34 465.53,166.73 466.36,168.07 467.19,169.36 468.03,170.60 468.86,171.78 469.70,172.90 470.53,173.97 471.37,174.97 472.20,175.91 473.03,176.78 473.87,177.59 474.70,178.33 475.54,179.01 476.37,179.61 477.21,180.14 478.04,180.60 478.88,180.99 479.71,181.30 480.54,181.54 481.38,181.70 482.21,181.79 483.05,181.81 483.88,181.75 484.72,181.62 485.55,181.41 486.38,181.13 487.22,180.77 488.05,180.34 488.89,179.84 489.72,179.27 490.56,178.62 491.39,177.91 492.22,177.13 493.06,176.28 493.89,175.37 494.73,174.39 495.56,173.36 496.40,172.26 497.23,171.10 498.06,169.89 498.90,168.62 499.73,167.30 500.57,165.93 501.40,164.52 502.24,163.06 503.07,161.55 503.91,160.01 504.74,158.43 505.57,156.81 506.41,155.17 507.24,153.49 508.08,151.79 508.91,150.07 509.75,148.32 510.58,146.56 511.41,144.79 512.25,143.01 513.08,141.21 513.92,139.42 514.75,137.62 515.59,135.82 516.42,134.03 517.25,132.24 518.09,130.47 518.92,128.71 519.76,126.97 520.59,125.25 521.43,123.55 522.26,121.87 523.09,120.23 523.93,118.62 524.76,117.04 525.60,115.50 526.43,114.00 527.27,112.54 528.10,111.13 528.94,109.76 529.77,108.45 530.60,107.18 531.44,105.98 532.27,104.82 533.11,103.73 533.94,102.69 534.78,101.72 535.61,100.81 536.44,99.97 537.28,99.20 538.11,98.49 538.95,97.85 539.78,97.28 540.62,96.79 541.45,96.36 542.28,96.01 543.12,95.73 543.95,95.53 544.79,95.40 545.62,95.35 546.46,95.37 547.29,95.47 548.12,95.64 548.96,95.88 549.79,96.20 550.63,96.59 551.46,97.06 552.30,97.59 553.13,98.20 553.97,98.88 554.80,99.62 555.63,100.44 556.47,101.32 557.30,102.26 558.14,103.27 558.97,104.34 559.81,105.46 560.64,106.65 561.47,107.89 562.31,109.18 563.14,110.52 563.98,111.92 564.81,113.35 565.65,114.84 566.48,116.36 567.31,117.92 568.15,119.52 568.98,121.15 569.82,122.81 570.65,124.50 571.49,126.21 572.32,127.94 573.15,129.70 573.99,131.46 574.82,133.24 575.66,135.03 576.49,136.83 577.33,138.63 578.16,140.42 579.00,142.22 579.83,144.01 580.66,145.79 581.50,147.55 582.33,149.31 583.17,151.04 584.00,152.75 584.84,154.44 585.67,156.09 586.50,157.72 587.34,159.32 588.17,160.88 589.01,162.40 589.84,163.88 590.68,165.32 591.51,166.71 592.34,168.05 593.18,169.34 594.01,170.58 594.85,171.76 595.68,172.88 596.52,173.95 597.35,174.95 598.18,175.89 599.02,176.77 599.85,177.58 600.69,178.32 601.52,178.99 602.36,179.60 603.19,180.13 604.02,180.59 604.86,180.98 605.69,181.29 606.53,181.53 607.36,181.70 608.20,181.79 609.03,181.81 609.87,181.75 610.70,181.62 611.53,181.41 612.37,181.13 613.20,180.78 614.04,180.35 614.87,179.85 615.71,179.28 616.54,178.64 617.37,177.93 618.21,177.15 619.04,176.30 619.88,175.39 620.71,174.41 621.55,173.38 622.38,172.28 623.21,171.12 624.05,169.91 624.88,168.65 625.72,167.33 626.55,165.96 627.39,164.54 628.22,163.08 629.06,161.58 629.89,160.04 630.72,158.46 631.56,156.85 632.39,155.20 633.23,153.53 634.06,151.82 634.90,150.10 635.73,148.36 636.56,146.60 637.40,144.82 638.23,143.04 639.07,141.25 639.90,139.45 640.74,137.65 641.57,135.85 642.40,134.06 643.24,132.28 644.07,130.50 644.91,128.75 645.74,127.00 646.58,125.28 647.41,123.58 648.24,121.91 649.08,120.26 649.91,118.65 650.75,117.07 651.58,115.53 652.42,114.03 653.25,112.57 654.09,111.16 654.92,109.79 655.75,108.47 656.59,107.21 657.42,106.00 658.26,104.84 659.09,103.75 659.93,102.71 660.76,101.74 661.59,100.83 662.43,99.99 663.26,99.21 664.10,98.50 664.93,97.86 665.77,97.29 666.60,96.80" fill="none" stroke="#0000ff" stroke-width="1.6" stroke-linejoin="round"/>
</g>
<rect x="416.3" y="5.3" width="250.3" height="199.89999999999998" fill="none" stroke="#000" stroke-width="1"/>
<path d="M447.59 205.2 v-2.1 M447.59 5.3 v2.1 M478.88 205.2 v-4.0 M478.88 5.3 v4.0 M510.16 205.2 v-2.1 M510.16 5.3 v2.1 M541.45 205.2 v-4.0 M541.45 5.3 v4.0 M572.74 205.2 v-2.1 M572.74 5.3 v2.1 M604.02 205.2 v-4.0 M604.02 5.3 v4.0 M635.31 205.2 v-2.1 M635.31 5.3 v2.1 M416.3 188.56 h2.1 M666.6 188.56 h-2.1 M416.3 171.90 h4.0 M666.6 171.90 h-4.0 M416.3 155.24 h2.1 M666.6 155.24 h-2.1 M416.3 138.58 h4.0 M666.6 138.58 h-4.0 M416.3 121.92 h2.1 M666.6 121.92 h-2.1 M416.3 105.26 h4.0 M666.6 105.26 h-4.0 M416.3 88.60 h2.1 M666.6 88.60 h-2.1 M416.3 71.94 h4.0 M666.6 71.94 h-4.0 M416.3 55.28 h2.1 M666.6 55.28 h-2.1 M416.3 38.62 h4.0 M666.6 38.62 h-4.0 M416.3 21.96 h2.1 M666.6 21.96 h-2.1" stroke="#000" stroke-width="1" fill="none"/>
<text transform="translate(416.30,220.70) scale(0.975,1)" font-size="13.6" text-anchor="middle" >0.0000</text>
<text transform="translate(478.88,220.70) scale(0.975,1)" font-size="13.6" text-anchor="middle" >0.0025</text>
<text transform="translate(541.45,220.70) scale(0.975,1)" font-size="13.6" text-anchor="middle" >0.0050</text>
<text transform="translate(604.02,220.70) scale(0.975,1)" font-size="13.6" text-anchor="middle" >0.0075</text>
<text transform="translate(666.60,220.70) scale(0.975,1)" font-size="13.6" text-anchor="middle" >0.0100</text>
<text transform="translate(411.60,209.92) scale(0.975,1)" font-size="13.6" text-anchor="end" >-0.8</text>
<text transform="translate(411.60,176.60) scale(0.975,1)" font-size="13.6" text-anchor="end" >-0.4</text>
<text transform="translate(411.60,143.28) scale(0.975,1)" font-size="13.6" text-anchor="end" >0.0</text>
<text transform="translate(411.60,109.96) scale(0.975,1)" font-size="13.6" text-anchor="end" >0.4</text>
<text transform="translate(411.60,76.64) scale(0.975,1)" font-size="13.6" text-anchor="end" >0.8</text>
<text transform="translate(411.60,43.32) scale(0.975,1)" font-size="13.6" text-anchor="end" >1.2</text>
<text transform="translate(411.60,10.00) scale(0.975,1)" font-size="13.6" text-anchor="end" >1.6</text>
<text x="541.3" y="245.1" font-size="17" text-anchor="middle"><tspan font-style="italic">t</tspan> (s)</text>
<g transform="translate(384.7,105.3) rotate(-90)" font-size="17"><text x="0" y="0" text-anchor="middle"><tspan font-style="italic">E</tspan> (V/cm)</text></g>
<text x="428" y="25.4" font-size="12">(b)</text>
<rect x="525.6" y="12.3" width="132.8" height="71.8" fill="#fff" stroke="#666" stroke-width="1"/>
<rect x="535.80" y="17.70" width="3.6" height="3.6" fill="#fff" stroke="#404040" stroke-width="0.8"/>
<rect x="535.80" y="19.50" width="3.6" height="1.80" fill="#404040"/>
<rect x="535.80" y="29.20" width="3.6" height="3.6" fill="#fff" stroke="#f0302c" stroke-width="0.8"/>
<rect x="535.80" y="31.00" width="3.6" height="1.80" fill="#f0302c"/>
<rect x="535.80" y="41.20" width="3.6" height="3.6" fill="#fff" stroke="#1a66e0" stroke-width="0.8"/>
<rect x="535.80" y="43.00" width="3.6" height="1.80" fill="#1a66e0"/>
<path d="M526.6 54.1 H548" stroke="#000" stroke-width="1.5"/>
<path d="M526.6 66.2 H548" stroke="#ff0000" stroke-width="1.5"/>
<path d="M526.6 77.7 H548" stroke="#0000ff" stroke-width="1.5"/>
<text x="550.6" y="22.50" font-size="9.5">Measurement curve(100Hz)</text>
<text x="550.6" y="34.00" font-size="9.5">Measurement curve(150Hz)</text>
<text x="550.6" y="45.70" font-size="9.5">Measurement curve(200Hz)</text>
<text x="550.6" y="57.80" font-size="9.5">Fitted curve(100Hz)</text>
<text x="550.6" y="69.40" font-size="9.5">Fitted curve(150Hz)</text>
<text x="550.6" y="80.70" font-size="9.5">Fitted curve(200Hz)</text>
</svg>
</body></html>
